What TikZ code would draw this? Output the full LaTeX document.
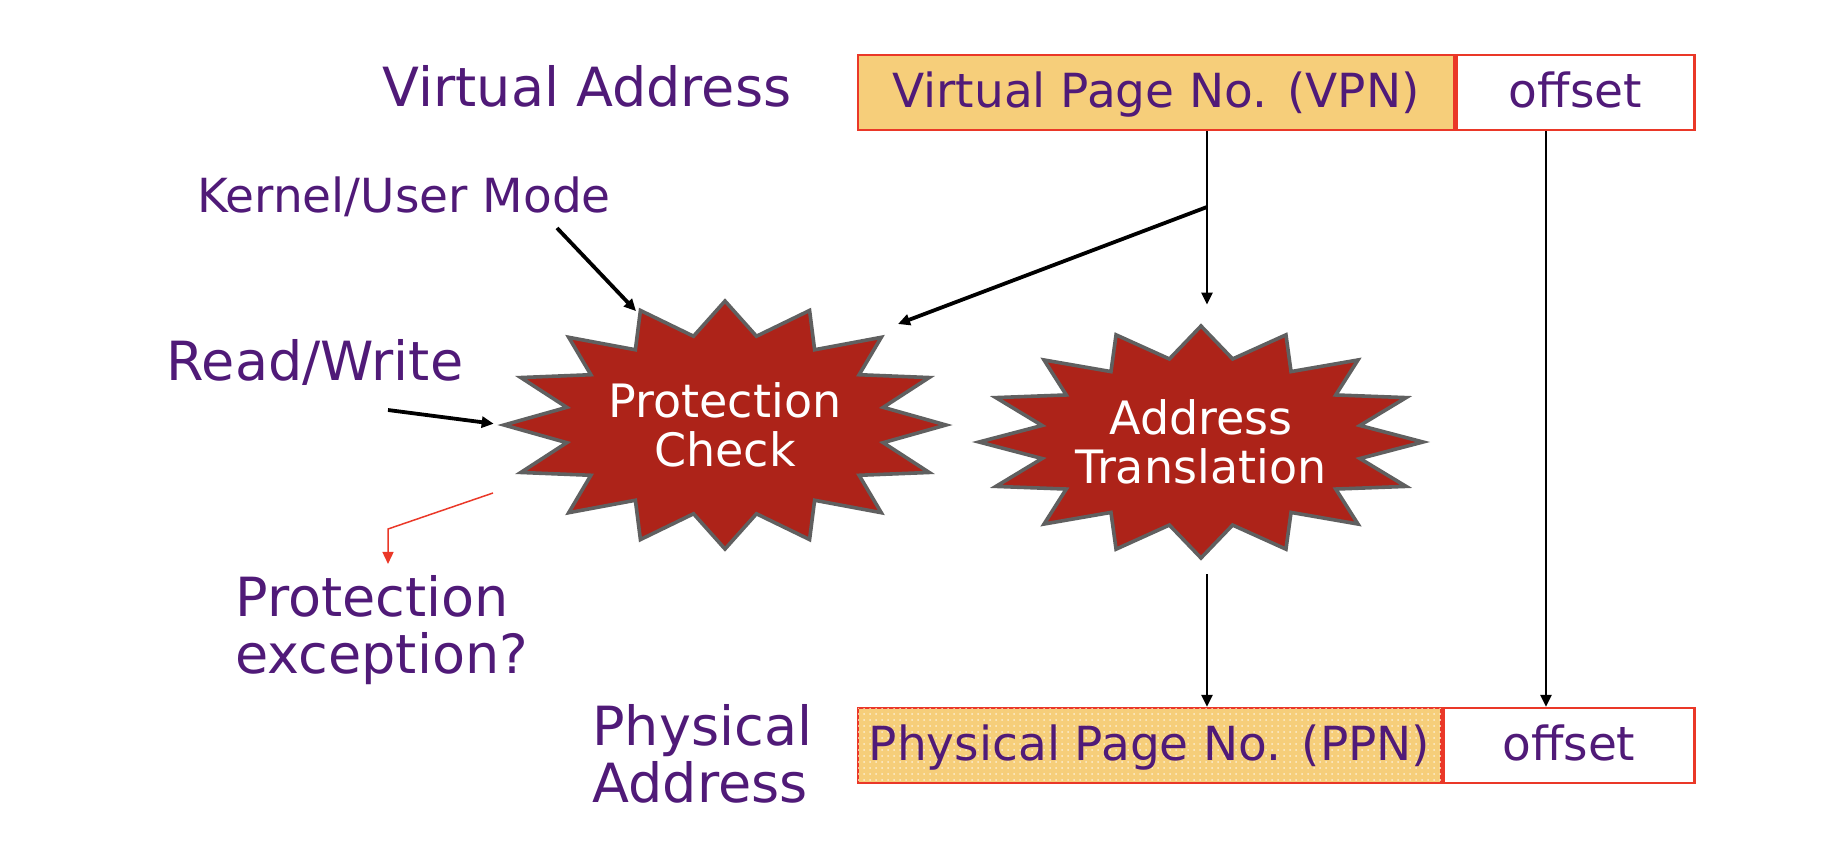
\documentclass[tikz,border=0pt]{standalone}
\usepackage{fontspec}
\setmainfont{DejaVu Sans}
\usetikzlibrary{positioning,shapes.geometric,arrows.meta,patterns,backgrounds}

\definecolor{txtpurple}{RGB}{80,26,120}
\definecolor{boxred}{RGB}{234,56,40}
\definecolor{boxorange}{RGB}{246,206,122}
\definecolor{burstred}{RGB}{173,35,25}
\definecolor{burstgray}{RGB}{96,96,96}

\begin{document}
\begin{tikzpicture}[x=0.5pt, y=-0.5pt,
        lbl/.style={text=txtpurple, inner sep=0pt, font=\fontsize{27pt}{28.5pt}\selectfont},
        midlbl/.style={lbl, font=\fontsize{23.5pt}{28pt}\selectfont},
        field/.style={draw=boxred, line width=1.2pt, minimum height=37.5pt, inner sep=0pt,
            text=txtpurple, text height=18pt, text depth=3pt, font=\fontsize{23.5pt}{28pt}\selectfont},
        burst/.style={ellipse, inner sep=0pt, text=white, align=center, font=\fontsize{23pt}{24.5pt}\selectfont},
        burstline/.style={draw=burstgray, fill=burstred, line width=1.8pt},
        wire/.style={->, line width=1.3pt},
        heavy/.style={->, line width=1.9pt},
        >={Triangle[length=6pt, width=5.5pt]}
    ]
        \useasboundingbox (0,0) rectangle (1848,852);

        % address fields
        \node [field, fill=boxorange, minimum width=298pt] (vpn) at (1156,92.5) {Virtual Page No. (VPN)};
        \node [field, fill=white, minimum width=119pt, right=0pt of vpn] (voff) {offset};
        \node [field, fill=boxorange, postaction={pattern=dots, pattern color=white!65!boxorange},
            minimum width=291.5pt] (ppn) at (1149.5,745.5) {Physical Page No. (PPN)};
        \node [field, fill=white, minimum width=125.5pt, right=0pt of ppn] (poff) {offset};

        % labels
        \node [lbl, anchor=base] (va) at (587,106) {Virtual Address};
        \node [midlbl, anchor=base] (kum) at (404,212) {Kernel/User Mode};
        \node [lbl, anchor=base] (rw) at (315,380) {Read/Write};
        \node [lbl, align=left, anchor=west] (exc) at (235,630) {Protection\\exception?};
        \node [lbl, align=left, anchor=west] (pa) at (592,753.5) {Physical\\Address};

        % checks
        \node [burst, minimum width=221pt, minimum height=124pt] (pc) at (725,425) {Protection\\Check};
        \node [burst, minimum width=222pt, minimum height=116pt] (at) at (1201,442) {Address\\Translation};
        \begin{scope}[on background layer]
            \foreach \nd/\bx/\by in {pc/221/124, at/222/116}
                \draw [burstline, shift={(\nd.center)}] plot [samples=33, domain=0:32, variable=\k]
                    ({(1-0.27*mod(round(\k),2))*\bx*cos(\k*11.25)}, {(1-0.27*mod(round(\k),2))*\by*sin(\k*11.25)}) -- cycle;
        \end{scope}

        \coordinate (br) at (1207,207);
        \coordinate (offx) at (1546,0);
        \coordinate (pcne) at (898,324);
        \coordinate (kumtail) at (557,228);
        \coordinate (rwtail) at (388,410);
        \coordinate (extail) at (493,493);
        \coordinate (exbend) at (388,529);

        \draw [line width=1.3pt] (br |- vpn.south) -- (br);
        \draw [wire, shorten >=10.5pt] (br) -- (br |- at.north);
        \draw [heavy] (br) -- (pcne);
        \draw [wire, shorten <=8pt] (br |- at.south) -- (br |- ppn.north);
        \draw [wire] (offx |- voff.south) -- (offx |- poff.north);
        \draw [heavy] (kumtail) -- (pc.128);
        \draw [heavy, shorten >=5pt] (rwtail) -- (pc.west);
        \draw [->, draw=boxred, line width=0.75pt, shorten >=5.5pt] (extail) -- (exbend) -- (exbend |- exc.north);
    \end{tikzpicture}
\end{document}
